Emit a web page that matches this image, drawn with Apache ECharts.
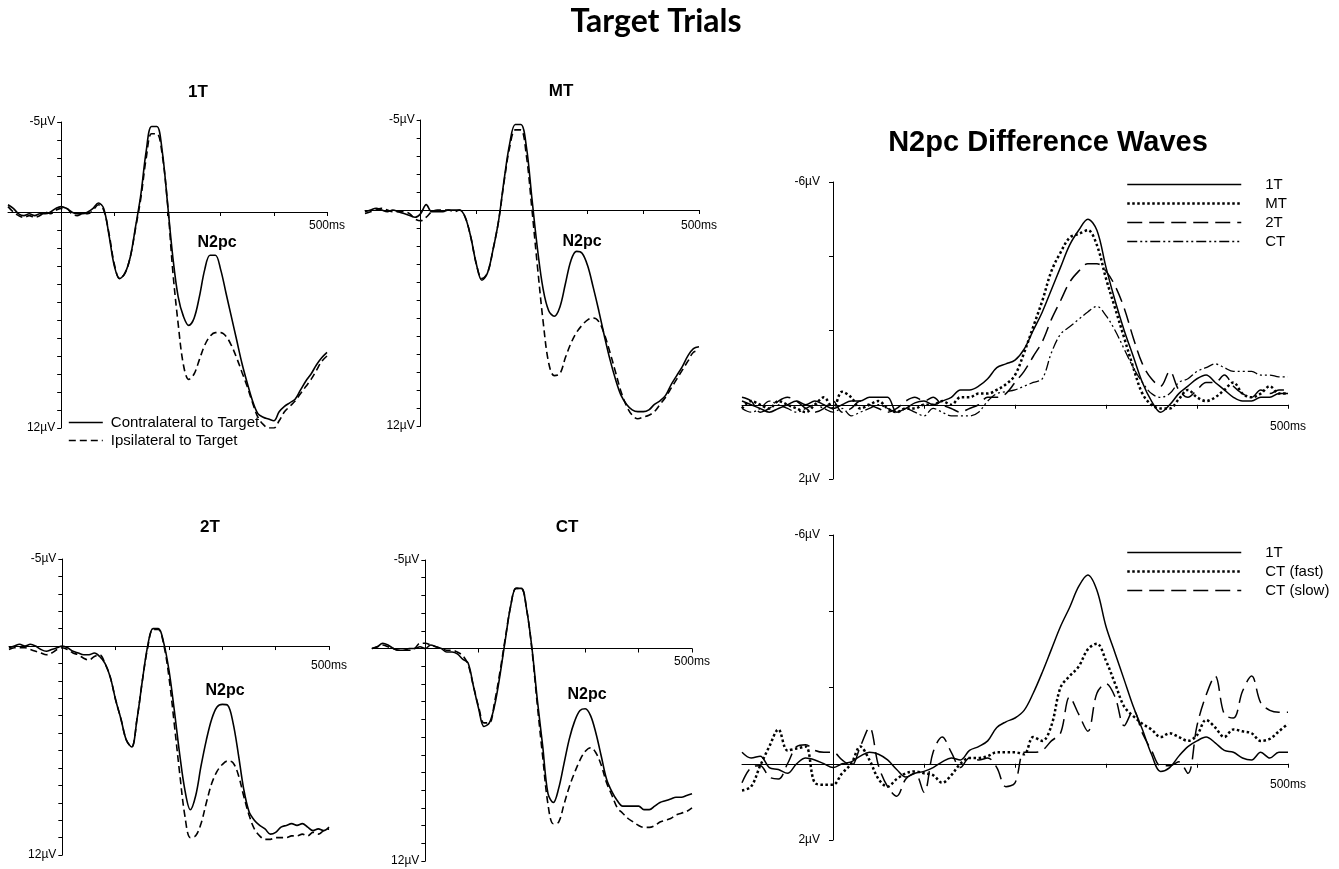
<!DOCTYPE html>
<html>
<head>
<meta charset="utf-8">
<script src="https://cdn.jsdelivr.net/npm/echarts@6/dist/echarts.min.js"></script>
<style>
  html, body { margin: 0; padding: 0; background: #fff; }
  #chart { width: 1339px; height: 869px; }
</style>
</head>
<body>
<div id="chart"></div>
<script>
  // time points (ms)
  const times = [-100, -90, -80, -70, -60, -50, -40, -30, -20, -10,
    0, 10, 20, 30, 40, 50, 60, 70, 80, 90,
    100, 110, 120, 130, 140, 150, 160, 170, 180, 190,
    200, 210, 220, 230, 240, 250, 260, 270, 280, 290,
    300, 310, 320, 330, 340, 350, 360, 370, 380, 390,
    400, 410, 420, 430, 440, 450, 460, 470, 480, 490, 500];

  // ERP waveforms (µV), contralateral / ipsilateral
  const contra1T = [-0.4, -0.2, 0.1, 0.2, 0.1, 0.2, 0.1, 0.1, 0, -0.2,
    -0.3, -0.2, 0, 0.1, 0.1, 0, -0.2, -0.5, -0.2, 1.3,
    3.0, 3.7, 3.4, 2.5, 0.8, -1.0, -3.4, -4.75, -4.75, -3.4,
    -0.5, 2.5, 4.7, 5.8, 6.3, 5.9, 4.7, 3.2, 2.4, 2.4,
    3.2, 4.5, 5.8, 7.1, 8.4, 9.5, 10.5, 11.2, 11.4, 11.5,
    11.6, 11.1, 10.8, 10.6, 10.4, 9.9, 9.4, 9.0, 8.5, 8.1, 7.8];
  const ipsi1T = [-0.3, 0, 0.2, 0.3, 0.2, 0.3, 0.2, 0, 0.1, -0.1,
    -0.2, -0.2, 0.1, 0.2, 0.1, 0.1, -0.1, -0.4, -0.1, 1.2,
    2.9, 3.7, 3.4, 2.5, 0.9, -0.8, -3.0, -4.35, -4.35, -3.2,
    -0.5, 3.3, 6.2, 8.5, 9.3, 9.0, 8.2, 7.4, 6.9, 6.7,
    6.7, 6.9, 7.4, 8.1, 8.9, 9.7, 10.6, 11.4, 11.8, 12.0,
    12.0, 11.6, 11.1, 10.8, 10.5, 10.1, 9.7, 9.3, 8.8, 8.3, 8.0];

  const contraMT = [0.1, 0, -0.1, 0, 0.1, 0, 0.1, 0.2, 0.3, 0.4,
    0.2, -0.3, 0.1, 0.1, 0.1, 0, 0, 0, 0.4, 1.5,
    3.0, 3.9, 3.5, 2.2, 0.6, -1.7, -3.7, -4.75, -4.75, -3.5,
    -0.6, 2.2, 4.4, 5.6, 5.9, 5.4, 4.1, 2.8, 2.3, 2.4,
    3.1, 4.3, 5.6, 7.0, 8.3, 9.4, 10.3, 10.8, 11.1, 11.2,
    11.2, 11.1, 10.8, 10.6, 10.3, 9.7, 9.2, 8.7, 8.1, 7.7, 7.6];
  const ipsiMT = [0.2, 0.1, 0, -0.1, 0, 0.1, 0.1, 0.1, 0.2, 0.5,
    0.6, 0.4, 0.1, 0, 0, 0, 0.1, 0, 0.4, 1.5,
    3.0, 3.8, 3.5, 2.2, 0.6, -1.6, -3.5, -4.45, -4.45, -3.0,
    0.0, 3.2, 6.2, 8.5, 9.2, 9.1, 8.2, 7.4, 6.8, 6.4,
    6.1, 6.0, 6.2, 6.9, 7.9, 9.0, 10.1, 10.9, 11.4, 11.6,
    11.5, 11.4, 11.2, 10.8, 10.4, 9.9, 9.4, 8.9, 8.4, 7.9, 7.8];

  const contra2T = [0.1, 0, -0.1, 0, -0.1, 0, 0.2, 0.3, 0.2, 0.1,
    0, 0.1, 0.3, 0.4, 0.5, 0.5, 0.4, 0.6, 1.0, 1.8,
    3.1, 4.2, 5.4, 5.8, 4.2, 2.0, 0.0, -1.0, -1.0, -0.2,
    1.4, 3.7, 6.2, 8.3, 9.4, 8.6, 6.9, 5.4, 4.2, 3.5,
    3.35, 3.4, 4.4, 6.2, 8.2, 9.5, 10.0, 10.3, 10.5, 10.8,
    10.7, 10.4, 10.3, 10.2, 10.3, 10.2, 10.4, 10.6, 10.5, 10.6, 10.4];
  const ipsi2T = [0.2, 0.1, 0.1, 0.1, 0.2, 0.3, 0.4, 0.5, 0.4, 0.2,
    0.1, 0.2, 0.4, 0.5, 0.7, 0.8, 0.6, 0.5, 1.0, 1.8,
    3.1, 4.2, 5.4, 5.8, 4.2, 2.0, 0.1, -0.95, -0.95, -0.1,
    1.8, 4.5, 7.3, 9.8, 11.0, 10.9, 10.2, 9.0, 7.9, 7.2,
    6.8, 6.6, 6.7, 7.4, 8.6, 9.7, 10.5, 10.9, 11.1, 11.1,
    11.0, 11.0, 11.0, 10.9, 10.9, 10.8, 10.9, 10.7, 10.8, 10.6, 10.5];

  const contraCT = [0, -0.1, -0.3, -0.2, 0, 0.1, 0.1, 0, 0, -0.1,
    0, -0.2, -0.1, 0, 0.2, 0.2, 0.3, 0.6, 0.8, 2.1,
    3.4, 4.4, 4.2, 3.2, 1.5, -0.5, -2.4, -3.4, -3.4, -2.2,
    0, 2.9, 5.5, 8.2, 8.7, 7.9, 6.5, 5.1, 4.1, 3.5,
    3.4, 3.8, 4.8, 6.1, 7.4, 8.1, 8.6, 8.9, 8.9, 8.9,
    8.9, 9.1, 9.1, 8.9, 8.7, 8.6, 8.5, 8.4, 8.4, 8.3, 8.2];
  const ipsiCT = [0, -0.1, -0.2, -0.1, 0, 0.1, 0.1, 0.1, 0, -0.3,
    -0.3, -0.2, -0.1, 0, 0.1, 0.1, 0.2, 0.4, 0.9, 2.1,
    3.3, 4.2, 4.2, 3.0, 1.3, -0.6, -2.4, -3.4, -3.4, -2.2,
    0.1, 3.2, 6.1, 8.8, 9.9, 9.8, 8.8, 7.8, 7.0, 6.3,
    5.8, 5.6, 5.9, 6.6, 7.6, 8.3, 9.0, 9.3, 9.6, 9.8,
    10.0, 10.1, 10.1, 10.0, 9.8, 9.7, 9.6, 9.4, 9.3, 9.2, 9.0];

  // N2pc difference waves (µV)
  const diff1T = [-0.1, 0, 0.1, 0.2, 0.1, 0, -0.1, 0, -0.1, 0,
    0.1, 0, -0.1, -0.1, -0.2, -0.2, -0.2, 0.2, 0.1, -0.05,
    -0.1, 0, -0.1, -0.2, -0.4, -0.4, -0.5, -0.7, -1.0, -1.1,
    -1.2, -1.5, -2.0, -2.5, -3.1, -3.7, -4.3, -4.7, -5.0, -4.7,
    -3.7, -2.8, -2.0, -1.3, -0.6, -0.1, 0.2, 0, -0.3, -0.5,
    -0.7, -0.8, -0.6, -0.4, -0.2, -0.1, -0.1, -0.2, -0.2, -0.3, -0.3];
  const diffMT = [0.1, -0.1, 0, 0.1, -0.1, 0, 0.1, 0.2, 0, -0.2,
    0.1, -0.35, -0.2, 0.1, 0, -0.1, 0.1, 0.2, 0.1, 0.1,
    0, 0, -0.1, 0, -0.2, -0.2, -0.3, -0.3, -0.4, -0.55,
    -0.8, -1.4, -2.1, -2.8, -3.6, -4.1, -4.5, -4.6, -4.7, -4.3,
    -3.4, -2.6, -1.8, -1.0, -0.3, 0, 0.1, 0.1, -0.15, -0.4,
    -0.2, -0.1, -0.2, -0.4, -0.6, -0.3, -0.2, -0.3, -0.5, -0.3, -0.3];
  const diff2T = [-0.2, -0.1, 0.2, 0.1, -0.1, -0.2, -0.1, 0.1, 0.2, 0.1,
    -0.1, 0.2, 0.1, -0.1, 0, 0.1, 0.2, 0.1, -0.1, -0.2,
    -0.1, -0.2, 0, 0.1, 0.2, 0.1, 0, -0.2, -0.2, -0.3,
    -0.6, -0.9, -1.3, -1.7, -2.3, -2.8, -3.3, -3.6, -3.8, -3.8,
    -3.6, -3.2, -2.6, -1.8, -1.1, -0.7, -0.5, -0.9, -0.4, -0.2,
    -0.4, -0.6, -0.6, -0.8, -0.5, -0.3, -0.2, -0.4, -0.3, -0.4, -0.4];
  const diffCT = [0.1, 0.2, 0.1, -0.1, 0, 0.1, 0.2, 0.1, 0, 0.1,
    0.2, 0.1, 0.3, 0.2, 0.1, 0, 0.1, 0.2, 0.1, 0.2,
    0.3, 0.1, 0.2, 0.3, 0.3, 0.3, 0.2, -0.1, -0.3, -0.35,
    -0.4, -0.5, -0.6, -0.7, -1.4, -1.9, -2.1, -2.3, -2.5, -2.65,
    -2.4, -2.0, -1.5, -1.0, -0.6, -0.3, -0.2, -0.3, -0.6, -0.7,
    -0.9, -1.0, -1.1, -1.0, -0.9, -0.9, -0.9, -0.8, -0.8, -0.75, -0.75];

  const diff1Tb = [-0.3, -0.15, -0.2, 0.1, 0.15, 0.25, 0, -0.15, -0.1, 0,
    0.1, 0, -0.05, -0.2, -0.3, -0.25, -0.1, 0.15, 0.35, 0.25,
    0.2, 0.1, -0.05, -0.15, -0.1, -0.35, -0.45, -0.6, -0.95, -1.1,
    -1.2, -1.4, -1.85, -2.4, -3.0, -3.6, -4.1, -4.65, -4.95, -4.55,
    -3.6, -2.9, -2.2, -1.5, -0.9, -0.25, 0.2, 0.1, -0.2, -0.45,
    -0.6, -0.7, -0.55, -0.35, -0.3, -0.15, -0.1, -0.3, -0.15, -0.3, -0.3];
  const diffCTfast = [0.7, 0.6, 0.05, -0.45, -0.9, -0.35, -0.4, -0.45, 0.5, 0.55,
    0.55, 0.25, 0, -0.45, -0.1, 0.4, 0.6, 0.4, 0.25, 0.2,
    0.25, 0.3, 0.5, 0.3, 0, -0.15, -0.15, -0.2, -0.3, -0.3,
    -0.3, -0.25, -0.7, -0.6, -1.0, -2.0, -2.3, -2.55, -3.0, -3.15,
    -2.7, -2.1, -1.5, -1.25, -1.05, -0.9, -0.7, -0.8, -0.7, -0.6,
    -0.75, -1.15, -0.95, -0.7, -0.9, -0.85, -0.8, -0.6, -0.65, -0.85, -1.05];
  const diffCTslow = [0.5, 0.1, 0.05, 0.35, 0.4, 0, -0.45, -0.5, -0.35, -0.3,
    -0.3, -0.1, 0.05, -0.45, -0.95, 0.05, 0.6, 0.85, 0.4, 0.25,
    0.75, -0.3, -0.7, -0.3, 0.1, -0.15, -0.1, -0.15, 0.1, 0.6,
    0.5, -0.3, -0.3, -0.35, -0.6, -0.8, -1.75, -1.3, -0.85, -1.85,
    -2.1, -1.75, -1.0, -1.4, -0.8, -0.35, 0.05, 0.05, -0.05, 0.25,
    -1.0, -1.8, -2.3, -1.3, -1.2, -1.9, -2.3, -1.6, -1.4, -1.35, -1.35];

  // axis ranges
  const timeRange = [-100, 500];
  const erpRange = [-5, 12];
  const diffRange = [-6, 2];

  const FONT = "'Liberation Sans', Arial, sans-serif";
  const pts = (vals) => times.map((t, i) => [t, vals[i]]);

  const panels = [
    { grid: { left: 8, top: 122, width: 319, height: 306 }, range: erpRange, step: 1, xMargin: 8 },
    { grid: { left: 365, top: 120, width: 334, height: 306 }, range: erpRange, step: 1, xMargin: 10 },
    { grid: { left: 9, top: 559, width: 320, height: 296 }, range: erpRange, step: 1, xMargin: 14 },
    { grid: { left: 372, top: 560, width: 320, height: 301 }, range: erpRange, step: 1, xMargin: 7 },
    { grid: { left: 742, top: 182, width: 546, height: 297 }, range: diffRange, step: 2, xMargin: 16 },
    { grid: { left: 742, top: 535, width: 546, height: 305 }, range: diffRange, step: 2, xMargin: 15 },
  ];

  // axes cross at (0 ms, 0 µV): shift each axis from the grid edge to the zero line
  const xAxes = panels.map((p, i) => {
    const [lo, hi] = p.range;
    return {
      type: 'value',
      gridIndex: i,
      min: timeRange[0],
      max: timeRange[1],
      interval: 100,
      position: 'bottom',
      offset: -p.grid.height * hi / (hi - lo),
      axisLine: { onZero: false, lineStyle: { color: '#000', width: 1 } },
      axisTick: { length: 4, lineStyle: { color: '#000' }, customValues: [100, 200, 300, 400, 500] },
      splitLine: { show: false },
      axisLabel: {
        color: '#000',
        fontSize: 12,
        fontFamily: FONT,
        margin: p.xMargin,
        formatter: (v) => (v === 500 ? '500ms' : ''),
      },
    };
  });

  const yAxes = panels.map((p, i) => {
    const [lo, hi] = p.range;
    return {
      type: 'value',
      gridIndex: i,
      inverse: true,
      min: lo,
      max: hi,
      interval: p.step,
      position: 'left',
      offset: -p.grid.width * (0 - timeRange[0]) / (timeRange[1] - timeRange[0]),
      axisLine: { show: true, onZero: false, lineStyle: { color: '#000', width: 1 } },
      axisTick: { show: true, length: 4, lineStyle: { color: '#000' } },
      splitLine: { show: false },
      axisLabel: {
        color: '#000',
        fontSize: 12,
        fontFamily: FONT,
        margin: lo === -6 ? 13 : 6,
        formatter: (v) => (v === lo || v === hi ? v + 'µV' : ''),
      },
    };
  });

  const line = (name, idx, vals, type, width) => ({
    type: 'line',
    name: name,
    xAxisIndex: idx,
    yAxisIndex: idx,
    data: pts(vals),
    smooth: 0.35,
    symbol: 'none',
    showSymbol: false,
    silent: true,
    lineStyle: { color: '#000', width: width || 1.5, type: type || 'solid', cap: 'butt' },
    itemStyle: { color: '#000' },
  });

  const SOLID = 'solid';
  const SHORTDASH = [7, 4];
  const DOTS = [2.5, 2.5];
  const LONGDASH = [15, 7];
  const DASHDOTDOT = [10, 3, 2, 3, 2, 3];

  const series = [
    line('Contralateral to Target', 0, contra1T, SOLID, 1.6),
    line('Ipsilateral to Target', 0, ipsi1T, SHORTDASH, 1.6),
    line('Contralateral to Target', 1, contraMT, SOLID, 1.6),
    line('Ipsilateral to Target', 1, ipsiMT, SHORTDASH, 1.6),
    line('Contralateral to Target', 2, contra2T, SOLID, 1.6),
    line('Ipsilateral to Target', 2, ipsi2T, SHORTDASH, 1.6),
    line('Contralateral to Target', 3, contraCT, SOLID, 1.6),
    line('Ipsilateral to Target', 3, ipsiCT, SHORTDASH, 1.6),
    line('1T', 4, diff1T, SOLID, 1.5),
    line('MT', 4, diffMT, DOTS, 2.5),
    line('2T', 4, diff2T, LONGDASH, 1.5),
    line('CT', 4, diffCT, DASHDOTDOT, 1.3),
    line('1T ', 5, diff1Tb, SOLID, 1.5),
    line('CT (fast)', 5, diffCTfast, DOTS, 2.5),
    line('CT (slow)', 5, diffCTslow, LONGDASH, 1.5),
  ];

  const legendBase = {
    orient: 'vertical',
    selectedMode: false,
    itemHeight: 12,
    itemStyle: { opacity: 0 },
    lineStyle: { width: 'inherit' },
    textStyle: { color: '#000', fontFamily: FONT, fontSize: 15 },
  };

  const text = (str, x, y, size, weight, family) => ({
    type: 'text',
    x: x,
    y: y,
    silent: true,
    style: {
      text: str,
      fill: '#000',
      font: (weight || 'bold') + ' ' + size + 'px ' + (family || FONT),
      textAlign: 'center',
      textVerticalAlign: 'middle',
    },
  });

  const chart = echarts.init(document.getElementById('chart'));
  chart.setOption({
    animation: false,
    backgroundColor: '#fff',
    grid: panels.map((p) => Object.assign({ outerBoundsMode: 'none', containLabel: false }, p.grid)),
    xAxis: xAxes,
    yAxis: yAxes,
    legend: [
      Object.assign({}, legendBase, {
        left: 63, top: 410, itemWidth: 34, itemGap: 3,
        data: ['Contralateral to Target', 'Ipsilateral to Target'],
        textStyle: Object.assign({}, legendBase.textStyle, { padding: [0, 0, 0, 3] }),
      }),
      Object.assign({}, legendBase, {
        left: 1121, top: 172, itemWidth: 114, itemGap: 4,
        data: ['1T', 'MT', '2T', 'CT'],
        textStyle: Object.assign({}, legendBase.textStyle, { padding: [0, 0, 0, 19] }),
      }),
      Object.assign({}, legendBase, {
        left: 1121, top: 540, itemWidth: 114, itemGap: 4,
        data: ['1T ', 'CT (fast)', 'CT (slow)'],
        formatter: (n) => n.trim(),
        textStyle: Object.assign({}, legendBase.textStyle, { padding: [0, 0, 0, 19] }),
      }),
    ],
    graphic: [
      text('Target Trials', 656, 22, 32, 'bold', "Lato, 'Open Sans', sans-serif"),
      text('N2pc Difference Waves', 1048, 143, 29),
      text('1T', 198, 92, 17),
      text('MT', 561, 91, 17),
      text('2T', 210, 527, 17),
      text('CT', 567, 527, 17),
      text('N2pc', 217, 243, 16),
      text('N2pc', 582, 242, 16),
      text('N2pc', 225, 691, 16),
      text('N2pc', 587, 695, 16),
    ],
    series: series,
  });
</script>
</body>
</html>
